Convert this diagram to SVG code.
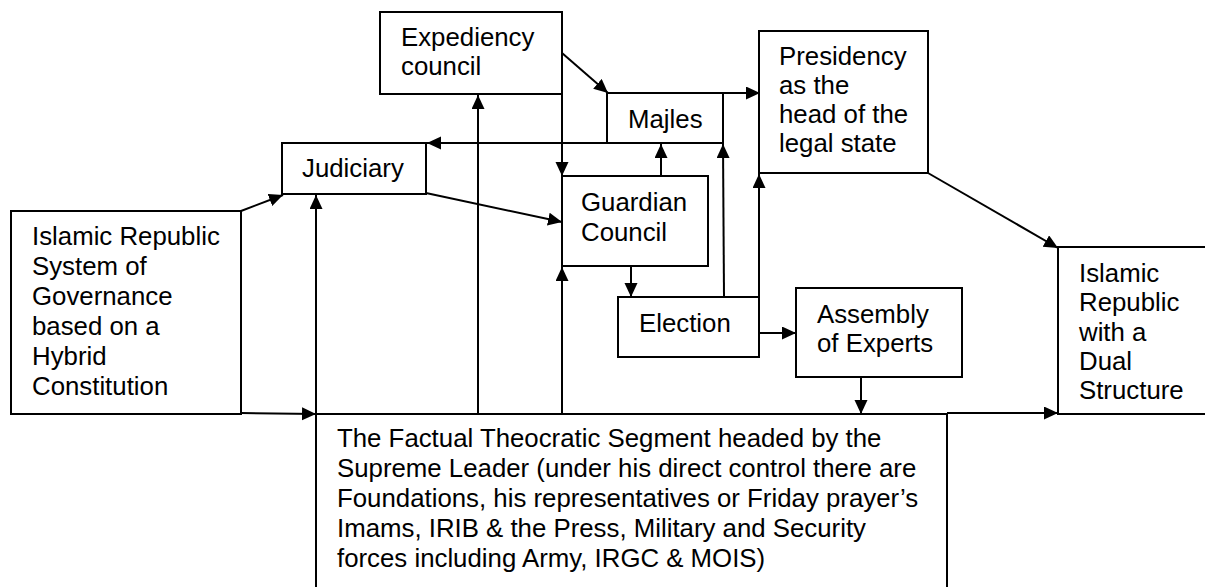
<svg xmlns="http://www.w3.org/2000/svg" width="1205" height="587" viewBox="0 0 1205 587">
<style>
.box{fill:#fff;stroke:#000;stroke-width:2}
.t{font-family:"Liberation Sans",Arial,sans-serif;font-size:25.8px;fill:#000}
.c{fill:none;stroke:#000;stroke-width:2;marker-end:url(#ah)}
</style>
<defs>
<marker id="ah" markerUnits="userSpaceOnUse" markerWidth="15" markerHeight="14" refX="14" refY="6.5" orient="auto">
<path d="M0,0 L14,6.5 L0,13 z" fill="#000"/>
</marker>
</defs>
<rect width="1205" height="587" fill="#fff"/>
<g id="n-islamic-republic-system">
<rect class="box" x="11" y="211" width="230" height="203"/>
<text class="t" x="32" y="245">Islamic Republic</text>
<text class="t" x="32" y="275">System of</text>
<text class="t" x="32" y="305">Governance</text>
<text class="t" x="32" y="335">based on a</text>
<text class="t" x="32" y="365">Hybrid</text>
<text class="t" x="32" y="395">Constitution</text>
</g>
<g id="n-judiciary">
<rect class="box" x="282" y="143" width="144" height="51"/>
<text class="t" x="302" y="177">Judiciary</text>
</g>
<g id="n-expediency">
<rect class="box" x="380" y="12" width="182" height="82"/>
<text class="t" x="401" y="46">Expediency</text>
<text class="t" x="401" y="75">council</text>
</g>
<g id="n-majles">
<rect class="box" x="607" y="93" width="116" height="50"/>
<text class="t" x="628" y="128">Majles</text>
</g>
<g id="n-presidency">
<rect class="box" x="759" y="31" width="169" height="142"/>
<text class="t" x="779" y="65">Presidency</text>
<text class="t" x="779" y="94">as the</text>
<text class="t" x="779" y="123">head of the</text>
<text class="t" x="779" y="152">legal state</text>
</g>
<g id="n-guardian">
<rect class="box" x="562" y="176" width="146" height="90"/>
<text class="t" x="581" y="211">Guardian</text>
<text class="t" x="581" y="241">Council</text>
</g>
<g id="n-election">
<rect class="box" x="618" y="297" width="141" height="60"/>
<text class="t" x="639" y="332">Election</text>
</g>
<g id="n-assembly">
<rect class="box" x="796" y="288" width="166" height="89"/>
<text class="t" x="817" y="323">Assembly</text>
<text class="t" x="817" y="352">of Experts</text>
</g>
<g id="n-dual">
<rect class="box" x="1058" y="247" width="160" height="167"/>
<text class="t" x="1079" y="282">Islamic</text>
<text class="t" x="1079" y="311">Republic</text>
<text class="t" x="1079" y="341">with a</text>
<text class="t" x="1079" y="370">Dual</text>
<text class="t" x="1079" y="399">Structure</text>
</g>
<g id="n-factual">
<rect class="box" x="316" y="414" width="631" height="200"/>
<text class="t" x="337" y="447">The Factual Theocratic Segment headed by the</text>
<text class="t" x="337" y="477">Supreme Leader (under his direct control there are</text>
<text class="t" x="337" y="507">Foundations, his representatives or Friday prayer’s</text>
<text class="t" x="337" y="537">Imams, IRIB &amp; the Press, Military and Security</text>
<text class="t" x="337" y="567">forces including Army, IRGC &amp; MOIS)</text>
</g>
<g id="connectors">
<path class="c" d="M241,211 L283,195"/>
<path class="c" d="M316,414 L316,195"/>
<path class="c" d="M241,413 L316,414"/>
<path class="c" d="M478,414 L478,95"/>
<path class="c" d="M562,414 L562,267"/>
<path class="c" d="M562,94 L562,176"/>
<path class="c" d="M562,53 L608,93"/>
<path class="c" d="M723,93 L760,93"/>
<path class="c" d="M723,143 L427,143"/>
<path class="c" d="M661,176 L661,144"/>
<path class="c" d="M724,297 L723,144"/>
<path class="c" d="M759,297 L759,174"/>
<path class="c" d="M426,193 L562,222"/>
<path class="c" d="M631,266 L631,297"/>
<path class="c" d="M758,333 L796,333"/>
<path class="c" d="M861,377 L861,414"/>
<path class="c" d="M947,413 L1058,413"/>
<path class="c" d="M928,173 L1058,248"/>
</g>
</svg>
